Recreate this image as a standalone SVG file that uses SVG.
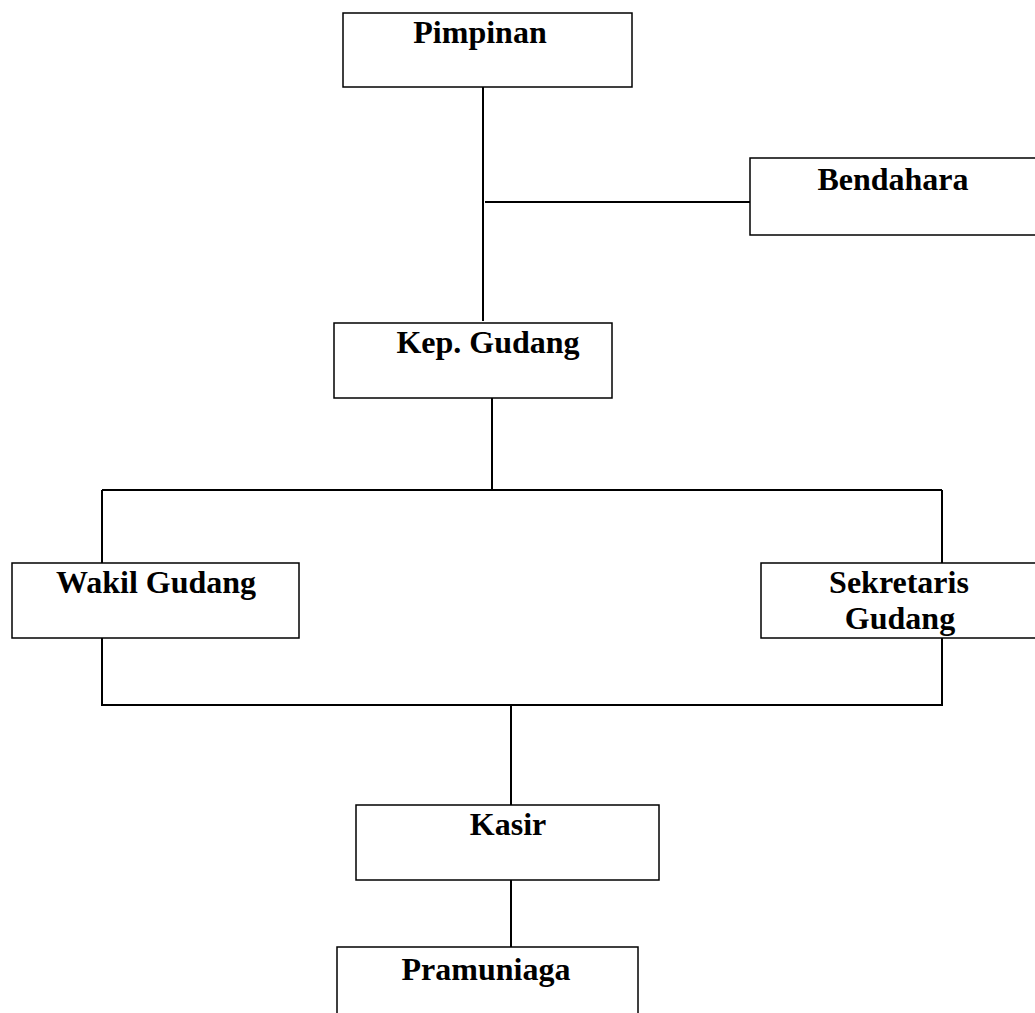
<svg xmlns="http://www.w3.org/2000/svg" width="1035" height="1013" viewBox="0 0 1035 1013">
<style>
.box{fill:#fff;stroke:#000;stroke-width:1.5}
.lbl{font-family:"Liberation Serif","Times New Roman",serif;font-weight:bold;font-size:32px;text-anchor:middle;fill:#000}
.ln{stroke:#000;stroke-width:2;fill:none}
</style>
<rect width="1035" height="1013" fill="#fff"/>
<g id="connectors">
<line class="ln" x1="483" y1="80" x2="483" y2="321"/>
<line class="ln" x1="485" y1="202" x2="750" y2="202"/>
<line class="ln" x1="492" y1="394" x2="492" y2="490"/>
<line class="ln" x1="102" y1="490" x2="942" y2="490"/>
<line class="ln" x1="102" y1="490" x2="102" y2="563"/>
<line class="ln" x1="942" y1="490" x2="942" y2="563"/>
<line class="ln" x1="102" y1="634" x2="102" y2="706"/>
<line class="ln" x1="942" y1="635" x2="942" y2="706"/>
<line class="ln" x1="102" y1="705" x2="942" y2="705"/>
<line class="ln" x1="511" y1="705" x2="511" y2="805"/>
<line class="ln" x1="511" y1="876" x2="511" y2="947"/>
</g>
<g id="pimpinan">
<rect class="box" x="343" y="13" width="289" height="74"/>
<text class="lbl" x="480" y="43">Pimpinan</text>
</g>
<g id="bendahara">
<rect class="box" x="750" y="158" width="300" height="77"/>
<text class="lbl" x="893" y="190">Bendahara</text>
</g>
<g id="kep-gudang">
<rect class="box" x="334" y="323" width="278" height="75"/>
<text class="lbl" x="488" y="353">Kep. Gudang</text>
</g>
<g id="wakil-gudang">
<rect class="box" x="12" y="563" width="287" height="75"/>
<text class="lbl" x="156" y="593">Wakil Gudang</text>
</g>
<g id="sekretaris-gudang">
<rect class="box" x="761" y="563" width="290" height="75"/>
<text class="lbl" x="899" y="593">Sekretaris</text>
<text class="lbl" x="900" y="629">Gudang</text>
</g>
<g id="kasir">
<rect class="box" x="356" y="805" width="303" height="75"/>
<text class="lbl" x="508" y="835">Kasir</text>
</g>
<g id="pramuniaga">
<rect class="box" x="337" y="947" width="301" height="80"/>
<text class="lbl" x="486" y="980">Pramuniaga</text>
</g>
</svg>
